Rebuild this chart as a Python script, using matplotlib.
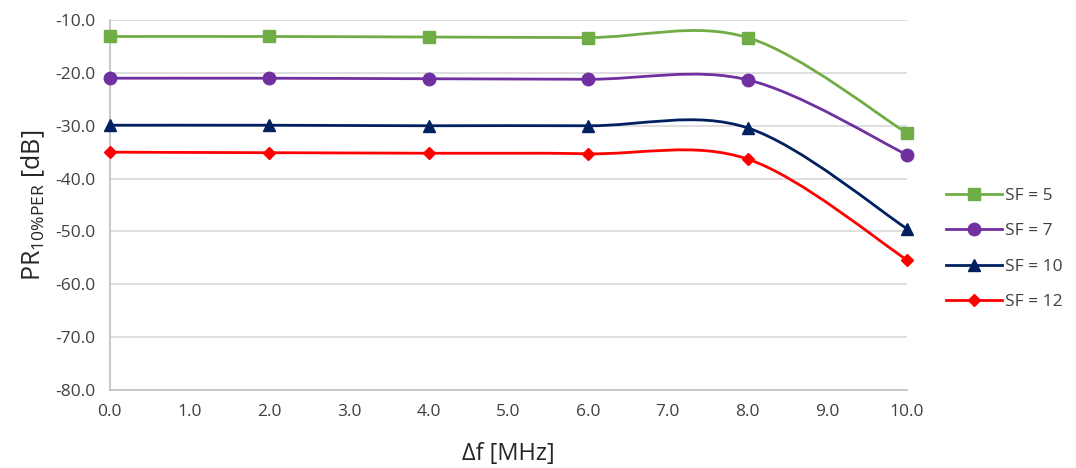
import numpy as np
import matplotlib.pyplot as plt
from matplotlib.path import Path
from matplotlib.patches import PathPatch
from matplotlib.lines import Line2D

plt.rcParams["font.family"] = ["Open Sans", "DejaVu Sans"]

delta_f = [0.0, 2.0, 4.0, 6.0, 8.0, 10.0]
sf5 = [-13.1, -13.1, -13.2, -13.3, -13.3, -31.4]
sf7 = [-21.0, -21.0, -21.1, -21.2, -21.3, -35.5]
sf10 = [-29.9, -29.9, -30.0, -30.0, -30.4, -49.5]
sf12 = [-35.0, -35.1, -35.2, -35.3, -36.3, -55.4]

labels = ["SF = 5", "SF = 7", "SF = 10", "SF = 12"]
colors = ["#70AD47", "#7030A0", "#002060", "#FF0000"]
markers = ["s", "o", "^", "D"]
msizes = [8, 9, 9, 6.5]


def smooth_path(x, y):
    # Catmull-Rom style bezier, like spreadsheet "smoothed line"
    pts = np.column_stack([x, y])
    n = len(pts)
    verts = [pts[0]]
    codes = [Path.MOVETO]
    for i in range(n - 1):
        p0 = pts[max(i - 1, 0)]
        p1 = pts[i]
        p2 = pts[i + 1]
        p3 = pts[min(i + 2, n - 1)]
        c1 = p1 + (p2 - p0) / 6.0
        c2 = p2 - (p3 - p1) / 6.0
        verts += [c1, c2, p2]
        codes += [Path.CURVE4] * 3
    return Path(verts, codes)


fig = plt.figure(figsize=(10.76, 4.68), dpi=100)
ax = fig.add_axes([0.102, 0.167, 0.741, 0.790])

series = [sf5, sf7, sf10, sf12]
handles = []
for vals, lab, col, mk, ms in zip(series, labels, colors, markers, msizes):
    patch = PathPatch(smooth_path(delta_f, vals), facecolor="none", edgecolor=col,
                      linewidth=2.0, zorder=3)
    ax.add_patch(patch)
    ax.plot(delta_f, vals, linestyle="none", marker=mk, markersize=ms, color=col, zorder=4,
            clip_on=False)
    handles.append(Line2D([0], [0], color=col, linewidth=2.0, marker=mk, markersize=ms, label=lab))

ax.set_xlim(0, 10)
ax.set_ylim(-80, -10)
ax.set_xticks(np.arange(0, 11, 1))
ax.set_xticklabels([f"{v:.1f}" for v in np.arange(0, 11, 1)])
ax.set_yticks(np.arange(-80, -9, 10))
ax.set_yticklabels([f"{v:.1f}" for v in np.arange(-80, -9, 10)])
ax.tick_params(length=0, labelsize=12.5, colors="#404040", pad=10)
ax.grid(axis="y", color="#D9D9D9", linewidth=1.2)
ax.set_axisbelow(True)
for side in ["top", "right"]:
    ax.spines[side].set_visible(False)
for side in ["left", "bottom"]:
    ax.spines[side].set_color("#BFBFBF")
    ax.spines[side].set_linewidth(1.2)

ax.set_xlabel("Δf [MHz]", fontsize=17, color="#262626", labelpad=16)
ax.set_ylabel(r"PR$_{\mathregular{10\%PER}}$ [dB]", fontsize=18, color="#262626", labelpad=6)

fig.legend(handles=handles, loc="center left", bbox_to_anchor=(0.865, 0.468), frameon=False,
           fontsize=12.5, handlelength=3.2, labelspacing=1.1, handletextpad=0.2,
           labelcolor="#404040")

fig.savefig("out.png", dpi=100)
